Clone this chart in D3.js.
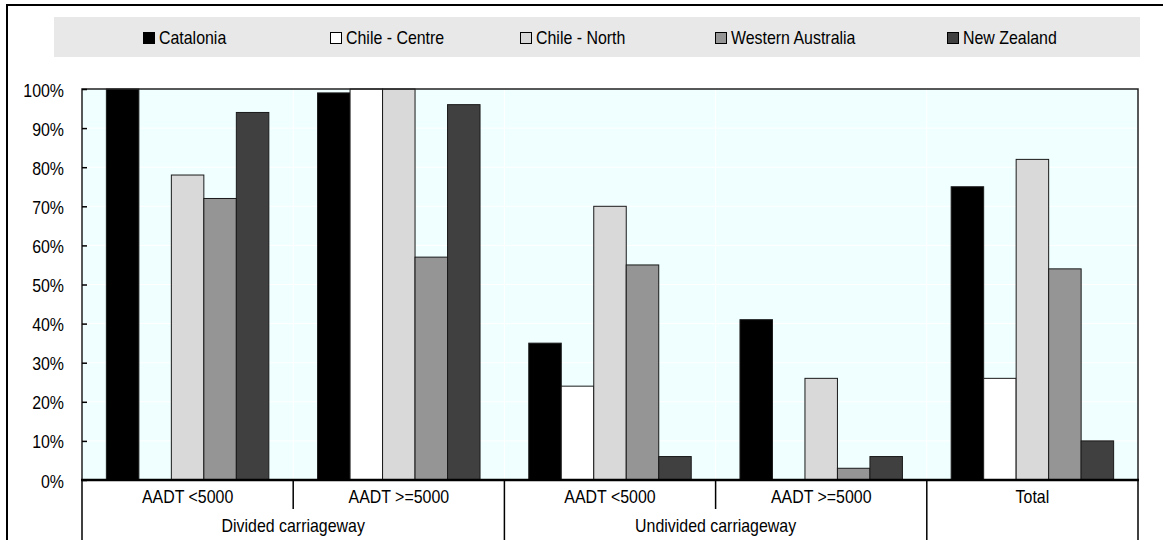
<!DOCTYPE html>
<html><head><meta charset="utf-8">
<script src="https://cdn.jsdelivr.net/npm/d3@7/dist/d3.min.js"></script>
<style>
html,body{margin:0;padding:0;background:#fff;}
svg{display:block;}
text{font-family:"Liberation Sans",Arial,sans-serif;fill:#000;}
</style></head>
<body>
<svg id="chart" width="1163" height="540"></svg>
<script>
// ---- data ----
const categories = ["AADT <5000", "AADT >=5000", "AADT <5000 ", "AADT >=5000 ", "Total"];
const categoryLabels = ["AADT <5000", "AADT >=5000", "AADT <5000", "AADT >=5000", "Total"];
const categoryGroups = ["Divided carriageway", "Divided carriageway", "Undivided carriageway", "Undivided carriageway", ""];
const series = ["Catalonia", "Chile - Centre", "Chile - North", "Western Australia", "New Zealand"];
const catalonia       = [100, 99, 35, 41, 75];
const chileCentre     = [0, 100, 24, 0, 26];
const chileNorth      = [78, 100, 70, 26, 82];
const westernAustralia= [72, 57, 55, 3, 54];
const newZealand      = [94, 96, 6, 6, 10];
const yTicks = [0, 10, 20, 30, 40, 50, 60, 70, 80, 90, 100];
const colors = ["#000000", "#ffffff", "#d9d9d9", "#959595", "#404040"];

const values = [catalonia, chileCentre, chileNorth, westernAustralia, newZealand];
const rows = [];
categories.forEach((c, ci) => series.forEach((s, si) => rows.push({cat: c, ser: s, si, v: values[si][ci]})));

// ---- layout ----
const W = 1163, H = 540;
const plot = {left: 82, right: 1138, top: 89, bottom: 480};
const FS = 17.5, SX = 0.91;
const svg = d3.select("#chart");

// outer frame
svg.append("rect").attr("x", 7).attr("y", 5).attr("width", 1200).attr("height", 600)
  .attr("fill", "none").attr("stroke", "#000").attr("stroke-width", 2);

// legend
svg.append("rect").attr("x", 54).attr("y", 17).attr("width", 1086).attr("height", 40).attr("fill", "#e8e8e8");
const legendX = [143, 330, 520, 715, 947];
const lg = svg.append("g").selectAll("g").data(series).join("g")
  .attr("transform", (d, i) => `translate(${legendX[i]},0)`);
lg.append("rect").attr("x", 0.5).attr("y", 32.5).attr("width", 11).attr("height", 11)
  .attr("fill", (d, i) => colors[i]).attr("stroke", "#000").attr("stroke-width", 1);
lg.append("text").attr("transform", `translate(16,44) scale(${SX},1)`)
  .attr("font-size", FS).text(d => d);

// scales
const x0 = d3.scaleBand().domain(categories).range([plot.left, plot.right]).paddingInner(0).paddingOuter(0);
const x1 = d3.scaleBand().domain(series).range([0, x0.bandwidth()]).paddingInner(0).paddingOuter(0.75);
const y = d3.scaleLinear().domain([0, 100]).range([plot.bottom, plot.top]);

// plot background
svg.append("rect").attr("x", plot.left).attr("y", plot.top)
  .attr("width", plot.right - plot.left).attr("height", plot.bottom - plot.top).attr("fill", "#f0ffff");
// gridlines
svg.append("g").selectAll("line").data(yTicks.slice(1, -1)).join("line")
  .attr("x1", plot.left).attr("x2", plot.right).attr("y1", d => y(d)).attr("y2", d => y(d))
  .attr("stroke", "#ffffff").attr("stroke-width", 1);
svg.append("g").selectAll("line").data(categories.slice(1)).join("line")
  .attr("x1", d => x0(d)).attr("x2", d => x0(d)).attr("y1", plot.top).attr("y2", plot.bottom)
  .attr("stroke", "#ffffff").attr("stroke-width", 1);

// bars
svg.append("g").selectAll("rect").data(rows.filter(r => r.v > 0)).join("rect")
  .attr("x", d => x0(d.cat) + x1(d.ser))
  .attr("y", d => y(d.v))
  .attr("width", x1.bandwidth())
  .attr("height", d => y(0) - y(d.v))
  .attr("fill", d => colors[d.si])
  .attr("stroke", "#1a1a1a").attr("stroke-width", 1);

// plot border
svg.append("rect").attr("x", plot.left).attr("y", plot.top)
  .attr("width", plot.right - plot.left).attr("height", plot.bottom - plot.top)
  .attr("fill", "none").attr("stroke", "#222").attr("stroke-width", 1.5);

// y axis
const yAxis = svg.append("g").attr("transform", `translate(${plot.left},0)`)
  .call(d3.axisLeft(y).tickValues(yTicks).tickFormat(d => d + "%").tickSize(-5).tickPadding(18));
yAxis.select(".domain").remove();
yAxis.selectAll(".tick line").attr("stroke", "#000").attr("stroke-width", 1.5);
yAxis.selectAll(".tick text").attr("font-size", FS).attr("font-family", '"Liberation Sans",Arial,sans-serif')
  .attr("dy", null).attr("y", 7).attr("transform", `translate(-18,0) scale(${SX},1) translate(18,0)`);

// x axis
const xAxis = svg.append("g").attr("transform", `translate(0,${plot.bottom})`)
  .call(d3.axisBottom(x0).tickSize(0).tickPadding(10.5).tickFormat((d, i) => categoryLabels[i]));
xAxis.select(".domain").remove();
xAxis.selectAll(".tick text").attr("font-size", FS).attr("font-family", '"Liberation Sans",Arial,sans-serif')
  .attr("dy", null).attr("y", 23).attr("transform", `scale(${SX},1)`);
svg.append("line").attr("x1", plot.left - 1).attr("x2", plot.right + 1)
  .attr("y1", plot.bottom).attr("y2", plot.bottom).attr("stroke", "#000").attr("stroke-width", 2.5);

// separators below axis
const bounds = [];
categories.forEach((c, i) => {
  const isGroupStart = i === 0 || categoryGroups[i] !== categoryGroups[i - 1] || categoryGroups[i] === "";
  bounds.push({x: x0(c), long: isGroupStart});
});
bounds.push({x: plot.right, long: true});
svg.append("g").selectAll("line").data(bounds).join("line")
  .attr("x1", d => d.x).attr("x2", d => d.x)
  .attr("y1", plot.bottom).attr("y2", d => d.long ? H + 5 : 509)
  .attr("stroke", "#000").attr("stroke-width", 1.5);

// group labels
const groups = [];
categoryGroups.forEach((g, i) => {
  if (!g) return;
  const last = groups[groups.length - 1];
  if (last && last.name === g) last.end = x0(categories[i]) + x0.bandwidth();
  else groups.push({name: g, start: x0(categories[i]), end: x0(categories[i]) + x0.bandwidth()});
});
svg.append("g").selectAll("text").data(groups).join("text")
  .attr("transform", d => `translate(${(d.start + d.end) / 2},531.5) scale(${SX},1)`)
  .attr("text-anchor", "middle").attr("font-size", FS).text(d => d.name);
</script>
</body></html>
